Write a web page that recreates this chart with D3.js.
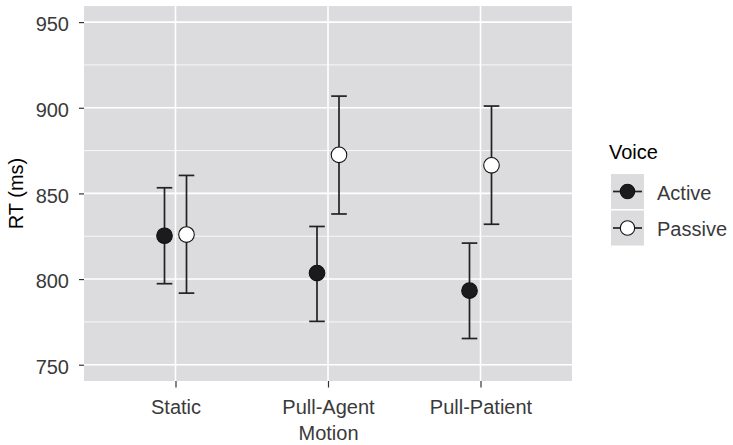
<!DOCTYPE html>
<html>
<head>
<meta charset="utf-8">
<script src="https://cdn.jsdelivr.net/npm/d3@7"></script>
<style>
  body { margin: 0; background: #fff; }
  svg { display: block; font-family: "Liberation Sans", Arial, Helvetica, sans-serif; }
</style>
</head>
<body>
<svg id="chart"></svg>
<script>
// data
const conditions = ["Static", "Pull-Agent Motion", "Pull-Patient"];
const conditionLabels = [["Static"], ["Pull-Agent", "Motion"], ["Pull-Patient"]];
const voices = ["Active", "Passive"];
const activeMean = [825.3, 803.5, 793.2];
const activeLow = [797.3, 775.3, 765.3];
const activeHigh = [853.3, 830.7, 821.0];
const passiveMean = [826.0, 872.5, 866.4];
const passiveLow = [791.8, 838.0, 832.0];
const passiveHigh = [860.5, 906.8, 901.0];
const yTicks = [750, 800, 850, 900, 950];
const yMinor = [775, 825, 875, 925];

const width = 733, height = 445;
const margin = {top: 6, right: 161, bottom: 64, left: 84};
const w = width - margin.left - margin.right;
const h = height - margin.top - margin.bottom;

const svg = d3.select("#chart").attr("width", width).attr("height", height);
const g = svg.append("g").attr("transform", `translate(${margin.left},${margin.top})`);

const x = d3.scalePoint().domain(conditions).range([0, w]).padding(0.6);
const dodge = d3.scalePoint().domain(voices).range([-11, 11]);
const y = d3.scaleLinear().domain([740.5, 959.4]).range([h, 0]);

const rows = [];
conditions.forEach((c, i) => {
  rows.push({cond: c, voice: "Active", mean: activeMean[i], lo: activeLow[i], hi: activeHigh[i]});
  rows.push({cond: c, voice: "Passive", mean: passiveMean[i], lo: passiveLow[i], hi: passiveHigh[i]});
});

const panelFill = "#dcdcde";
const ink = "#222";
const fill = {Active: "#1b1b1b", Passive: "#ffffff"};

// panel + grid
g.append("rect").attr("width", w).attr("height", h).attr("fill", panelFill);
g.selectAll(".minor").data(yMinor).join("line")
  .attr("x1", 0).attr("x2", w)
  .attr("y1", d => y(d)).attr("y2", d => y(d))
  .attr("stroke", "#fff").attr("stroke-width", 0.8);
g.selectAll(".major").data(yTicks).join("line")
  .attr("x1", 0).attr("x2", w)
  .attr("y1", d => y(d)).attr("y2", d => y(d))
  .attr("stroke", "#fff").attr("stroke-width", 1.6);
g.selectAll(".vgrid").data(conditions).join("line")
  .attr("x1", d => x(d)).attr("x2", d => x(d))
  .attr("y1", 0).attr("y2", h)
  .attr("stroke", "#fff").attr("stroke-width", 1.6);

// axes
const yAxis = g.append("g")
  .call(d3.axisLeft(y).tickValues(yTicks).tickSize(5).tickPadding(10));
yAxis.select(".domain").remove();
yAxis.selectAll(".tick line").attr("stroke", "#333").attr("stroke-width", 1.2);
yAxis.selectAll(".tick text")
  .attr("fill", "#3a3a3a").attr("font-size", 20).attr("dy", "0.44em")
  .style("font-family", "'Liberation Sans', Arial, sans-serif");

const xAxis = g.append("g").attr("transform", `translate(0,${h})`)
  .call(d3.axisBottom(x).tickSize(6.5).tickFormat(""));
xAxis.select(".domain").remove();
xAxis.selectAll(".tick line").attr("stroke", "#333").attr("stroke-width", 1.2);
xAxis.selectAll(".tick text").remove();
xAxis.selectAll(".tick").append("text")
  .attr("fill", "#3a3a3a").attr("font-size", 20).attr("text-anchor", "middle")
  .style("font-family", "'Liberation Sans', Arial, sans-serif")
  .each(function(d) {
    const lines = conditionLabels[conditions.indexOf(d)];
    d3.select(this).selectAll("tspan").data(lines).join("tspan")
      .attr("x", 0).attr("y", (l, k) => 33 + k * 26).text(l => l);
  });

svg.append("text")
  .attr("transform", `translate(23,${margin.top + h / 2}) rotate(-90)`)
  .attr("text-anchor", "middle").attr("font-size", 20).attr("fill", "#000")
  .text("RT (ms)");

// error bars + points
const cap = 7.8;
const marks = g.append("g");
marks.selectAll(".stem").data(rows).join("line")
  .attr("x1", d => x(d.cond) + dodge(d.voice)).attr("x2", d => x(d.cond) + dodge(d.voice))
  .attr("y1", d => y(d.lo)).attr("y2", d => y(d.hi))
  .attr("stroke", ink).attr("stroke-width", 1.7);
marks.selectAll(".capHi").data(rows).join("line")
  .attr("x1", d => x(d.cond) + dodge(d.voice) - cap).attr("x2", d => x(d.cond) + dodge(d.voice) + cap)
  .attr("y1", d => y(d.hi)).attr("y2", d => y(d.hi))
  .attr("stroke", ink).attr("stroke-width", 1.7);
marks.selectAll(".capLo").data(rows).join("line")
  .attr("x1", d => x(d.cond) + dodge(d.voice) - cap).attr("x2", d => x(d.cond) + dodge(d.voice) + cap)
  .attr("y1", d => y(d.lo)).attr("y2", d => y(d.lo))
  .attr("stroke", ink).attr("stroke-width", 1.7);
marks.selectAll("circle").data(rows).join("circle")
  .attr("cx", d => x(d.cond) + dodge(d.voice)).attr("cy", d => y(d.mean))
  .attr("r", 7.8)
  .attr("fill", d => fill[d.voice]).attr("stroke", "#111").attr("stroke-width", 1.1);

// legend
const legend = svg.append("g").attr("transform", "translate(609,0)");
legend.append("text").attr("x", 0).attr("y", 159).attr("font-size", 20).attr("fill", "#000").text("Voice");
const keyH = 36.5;
const key = legend.selectAll(".key").data(voices).join("g")
  .attr("transform", (d, i) => `translate(2,${174 + i * keyH})`);
key.append("rect").attr("width", 33).attr("height", 35).attr("fill", panelFill);
key.append("line").attr("x1", 2).attr("x2", 31).attr("y1", 17.5).attr("y2", 17.5)
  .attr("stroke", ink).attr("stroke-width", 1.7);
key.append("circle").attr("cx", 16.5).attr("cy", 17.5).attr("r", 7.2)
  .attr("fill", d => fill[d]).attr("stroke", "#111").attr("stroke-width", 1.1);
key.append("text").attr("x", 46).attr("y", 25.5).attr("font-size", 20).attr("fill", "#3a3a3a")
  .text(d => d);
</script>
</body>
</html>
